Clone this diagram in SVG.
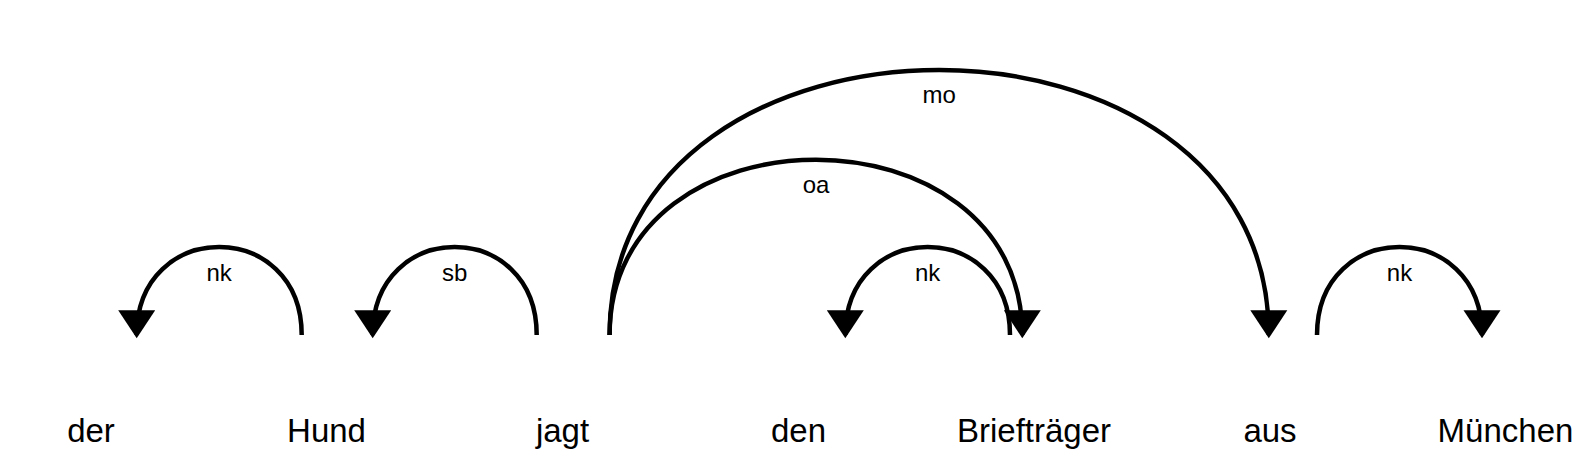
<svg xmlns="http://www.w3.org/2000/svg" width="1585" height="475" viewBox="0 0 1585 475">
<style>
.arc{fill:none;stroke:#000;stroke-width:4.5}
.head{fill:#000;stroke:none}
.word{font-family:"Liberation Sans",Arial,sans-serif;font-size:33px;fill:#000;text-anchor:middle}
.lbl{font-family:"Liberation Sans",Arial,sans-serif;font-size:24px;fill:#000;text-anchor:middle}
</style>
<defs>
<path id="ah" d="M0,0 L-18.5,-28 L18.5,-28 Z"/>
</defs>
<rect width="1585" height="475" fill="#fff"/>
<g id="words">
<g id="w0"><text class="word" x="91" y="442">der</text></g>
<g id="w1"><text class="word" x="326.5" y="442">Hund</text></g>
<g id="w2"><text class="word" x="562.5" y="442">jagt</text></g>
<g id="w3"><text class="word" x="798.5" y="442">den</text></g>
<g id="w4"><text class="word" x="1034" y="442">Briefträger</text></g>
<g id="w5"><text class="word" x="1270" y="442">aus</text></g>
<g id="w6"><text class="word" x="1505.5" y="442">München</text></g>
</g>
<g id="connectors">
<g id="a-nk1">
<path class="arc" d="M301.7,335 C301.7,217.7 136.7,217.7 136.7,335"/>
<use href="#ah" class="head" x="136.7" y="338.3"/>
<text class="lbl" x="219.2" y="281">nk</text>
</g>
<g id="a-sb">
<path class="arc" d="M536.7,335 C536.7,217.7 372.7,217.7 372.7,335"/>
<use href="#ah" class="head" x="372.7" y="338.3"/>
<text class="lbl" x="454.7" y="281">sb</text>
</g>
<g id="a-mo">
<path class="arc" d="M609.6,335 C609.6,-18.3 1268.8,-18.3 1268.8,335"/>
<use href="#ah" class="head" x="1268.8" y="338.3"/>
<text class="lbl" x="939.2" y="103">mo</text>
</g>
<g id="a-nk2">
<path class="arc" d="M1010,335 C1010,217.7 845.3,217.7 845.3,335"/>
<use href="#ah" class="head" x="845.3" y="338.3"/>
<text class="lbl" x="927.6" y="281">nk</text>
</g>
<g id="a-oa">
<path class="arc" d="M609.6,335 C609.6,101.3 1022.3,101.3 1022.3,335"/>
<use href="#ah" class="head" x="1022.3" y="338.3"/>
<text class="lbl" x="816" y="193">oa</text>
</g>
<g id="a-nk3">
<path class="arc" d="M1317,335 C1317,217.7 1482,217.7 1482,335"/>
<use href="#ah" class="head" x="1482" y="338.3"/>
<text class="lbl" x="1399.5" y="281">nk</text>
</g>
</g>
</svg>
